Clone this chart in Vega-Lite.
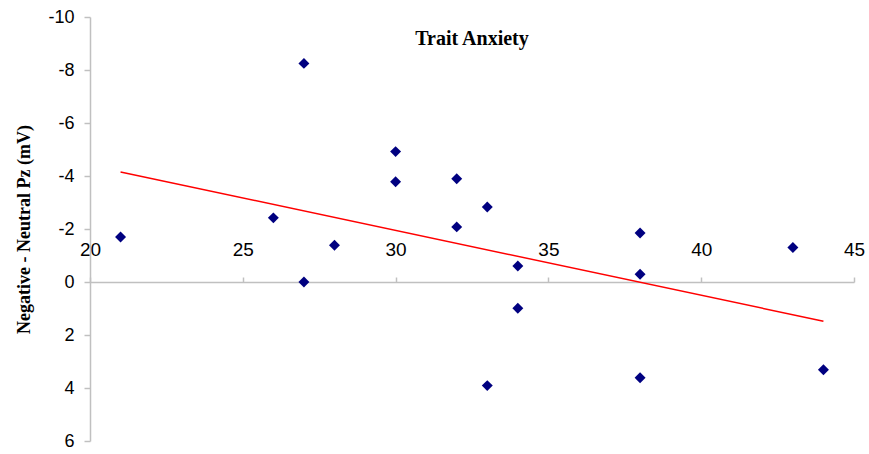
{
  "$schema": "https://vega.github.io/schema/vega-lite/v6.json",
  "width": 764,
  "height": 424,
  "autosize": {"type": "none"},
  "padding": {"left": 90, "top": 17, "right": 15, "bottom": 13},
  "background": "white",
  "title": {
    "text": "Trait Anxiety",
    "font": "Liberation Serif",
    "fontSize": 20,
    "fontWeight": "bold",
    "color": "black",
    "anchor": "middle",
    "baseline": "alphabetic",
    "offset": -57
  },
  "config": {
    "view": {"stroke": null},
    "axis": {"grid": false, "domainColor": "#c0c0c0", "tickColor": "#c0c0c0", "domainWidth": 1.5, "tickWidth": 1.5}
  },
  "datasets": {
    "points": [
      {"anxiety": 21, "diff": -1.7},
      {"anxiety": 26, "diff": -2.42},
      {"anxiety": 27, "diff": -8.25},
      {"anxiety": 27, "diff": 0.0},
      {"anxiety": 28, "diff": -1.39},
      {"anxiety": 30, "diff": -4.92},
      {"anxiety": 30, "diff": -3.78},
      {"anxiety": 32, "diff": -3.9},
      {"anxiety": 32, "diff": -2.08},
      {"anxiety": 33, "diff": -2.83},
      {"anxiety": 33, "diff": 3.91},
      {"anxiety": 34, "diff": -0.6},
      {"anxiety": 34, "diff": 0.99},
      {"anxiety": 38, "diff": -1.85},
      {"anxiety": 38, "diff": -0.29},
      {"anxiety": 38, "diff": 3.61},
      {"anxiety": 43, "diff": -1.3},
      {"anxiety": 44, "diff": 3.31}
    ],
    "trend": [
      {"anxiety": 21, "diff": -4.15},
      {"anxiety": 44, "diff": 1.48}
    ]
  },
  "layer": [
    {
      "data": {"name": "trend"},
      "mark": {"type": "line", "color": "#ff0000", "strokeWidth": 1.5},
      "encoding": {
        "x": {"field": "anxiety", "type": "quantitative", "scale": {"domain": [20, 45], "nice": false, "zero": false},
          "axis": {"orient": "top", "offset": -265, "values": [20, 25, 30, 35, 40, 45], "title": null,
            "labelFont": "Liberation Sans", "labelFontSize": 19, "labelColor": "black", "tickSize": 5, "labelPadding": 18,
            "labelFlush": false}},
        "y": {"field": "diff", "type": "quantitative", "scale": {"domain": [-10, 6], "reverse": true, "nice": false, "zero": false},
          "axis": {"values": [-10, -8, -6, -4, -2, 0, 2, 4, 6], "title": "Negative - Neutral Pz (mV)",
            "labelExpr": "datum.value < 0 ? '-' + abs(datum.value) : '' + datum.value",
            "titleFont": "Liberation Serif", "titleFontSize": 18, "titleFontWeight": "bold", "titleColor": "black",
            "titlePadding": 14,
            "labelFont": "Liberation Sans", "labelFontSize": 18, "labelColor": "black", "tickSize": 6, "labelPadding": 10}}
      }
    },
    {
      "data": {"name": "points"},
      "mark": {"type": "point", "shape": "diamond", "filled": true, "color": "#000080", "size": 120, "opacity": 1},
      "encoding": {
        "x": {"field": "anxiety", "type": "quantitative"},
        "y": {"field": "diff", "type": "quantitative"}
      }
    }
  ]
}
